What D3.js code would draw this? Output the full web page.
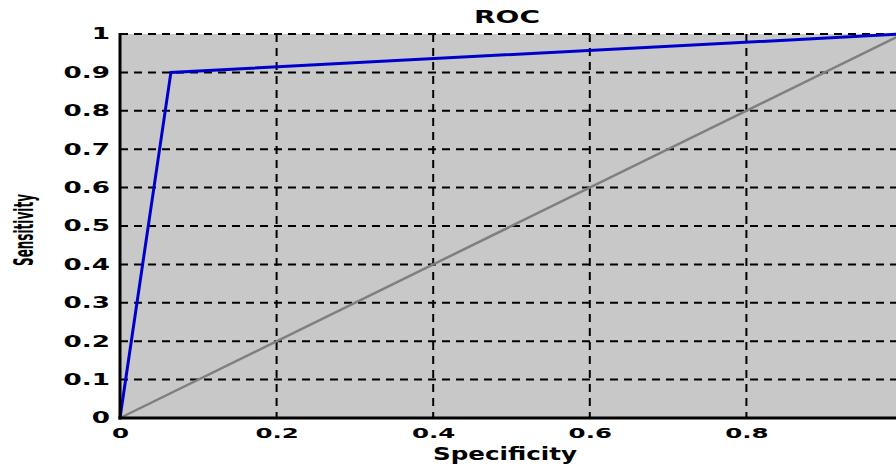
<!DOCTYPE html>
<html>
<head>
<meta charset="utf-8">
<script src="https://cdn.jsdelivr.net/npm/d3@7"></script>
<style>
  body{margin:0;background:#fff;}
  text{font-family:"DejaVu Sans",sans-serif;font-weight:bold;fill:#000;}
</style>
</head>
<body>
<svg id="chart" width="896" height="468"></svg>
<script>
// ROC chart
var rocX = [0, 0.065, 1],
    rocY = [0, 0.9, 1];
var refX = [0, 1],
    refY = [0, 1];
var xTicks = [0, 0.2, 0.4, 0.6, 0.8, 1],
    yTicks = [0, 0.1, 0.2, 0.3, 0.4, 0.5, 0.6, 0.7, 0.8, 0.9, 1];

(function(){
'use strict';
var pLeft = 120, pRight = 903, pTop = 34, pBottom = 418;
var svg = d3.select('#chart');

var x = d3.scaleLinear().domain([0, 1]).range([pLeft, pRight]),
    y = d3.scaleLinear().domain([0, 1]).range([pBottom, pTop]);

// plot background
svg.append('rect')
   .attr('x', pLeft).attr('y', pTop)
   .attr('width', pRight - pLeft).attr('height', pBottom - pTop)
   .style('fill', '#c8c8c8');

// grid
svg.append('g').selectAll('line')
   .data(yTicks.filter(d => d > 0))
   .enter().append('line')
   .attr('x1', pLeft).attr('x2', pRight)
   .attr('y1', d => y(d)).attr('y2', d => y(d))
   .style('stroke', '#000').style('stroke-width', 2)
   .style('stroke-dasharray', '8,6');
svg.append('g').selectAll('line')
   .data(xTicks.filter(d => d > 0 && d < 1))
   .enter().append('line')
   .attr('x1', d => x(d)).attr('x2', d => x(d))
   .attr('y1', pTop).attr('y2', pBottom)
   .style('stroke', '#000').style('stroke-width', 2)
   .style('stroke-dasharray', '8,6');

var line = d3.line().x(d => x(d[0])).y(d => y(d[1]));

// reference diagonal
svg.append('path')
   .datum(refX.map((v, i) => [v, refY[i]]))
   .attr('d', line)
   .style('fill', 'none').style('stroke', '#7f7f7f').style('stroke-width', 2.5);

// roc curve
svg.append('path')
   .datum(rocX.map((v, i) => [v, rocY[i]]))
   .attr('d', line)
   .style('fill', 'none').style('stroke', '#0000cc').style('stroke-width', 3);

// axes
var sx = 1.75;
var yAxis = svg.append('g')
   .attr('transform', 'translate(' + pLeft + ',0)')
   .call(d3.axisLeft(y).tickValues(yTicks).tickSize(0).tickPadding(10).tickFormat(d3.format('')));
yAxis.select('.domain').remove();
yAxis.selectAll('text')
     .style('font-size', '15px')
     .attr('transform', 'scale(' + sx + ',1)')
     .attr('x', -10 / sx);

var xAxis = svg.append('g')
   .attr('transform', 'translate(0,' + pBottom + ')')
   .call(d3.axisBottom(x).tickValues(xTicks).tickSize(0).tickPadding(10).tickFormat(d3.format('')));
xAxis.select('.domain').remove();
xAxis.selectAll('text')
     .style('font-size', '14px')
     .attr('transform', 'scale(' + sx + ',1)');

svg.append('line')
   .attr('x1', pLeft).attr('x2', pLeft).attr('y1', pTop - 1).attr('y2', pBottom + 1.5)
   .style('stroke', '#000').style('stroke-width', 3);
svg.append('line')
   .attr('x1', pLeft - 1.5).attr('x2', pRight).attr('y1', pBottom).attr('y2', pBottom)
   .style('stroke', '#000').style('stroke-width', 3);

// labels
svg.append('text')
   .attr('x', 507).attr('y', 23)
   .attr('text-anchor', 'middle')
   .attr('textLength', 66).attr('lengthAdjust', 'spacingAndGlyphs')
   .style('font-size', '18px')
   .text('ROC');

svg.append('text')
   .attr('x', 505).attr('y', 460)
   .attr('text-anchor', 'middle')
   .attr('textLength', 144).attr('lengthAdjust', 'spacingAndGlyphs')
   .style('font-size', '17px')
   .text('Specificity');

svg.append('text')
   .attr('transform', 'translate(33,230) rotate(-90)')
   .attr('text-anchor', 'middle')
   .attr('textLength', 72).attr('lengthAdjust', 'spacingAndGlyphs')
   .style('font-size', '27px')
   .text('Sensitivity');
})();
</script>
</body>
</html>
